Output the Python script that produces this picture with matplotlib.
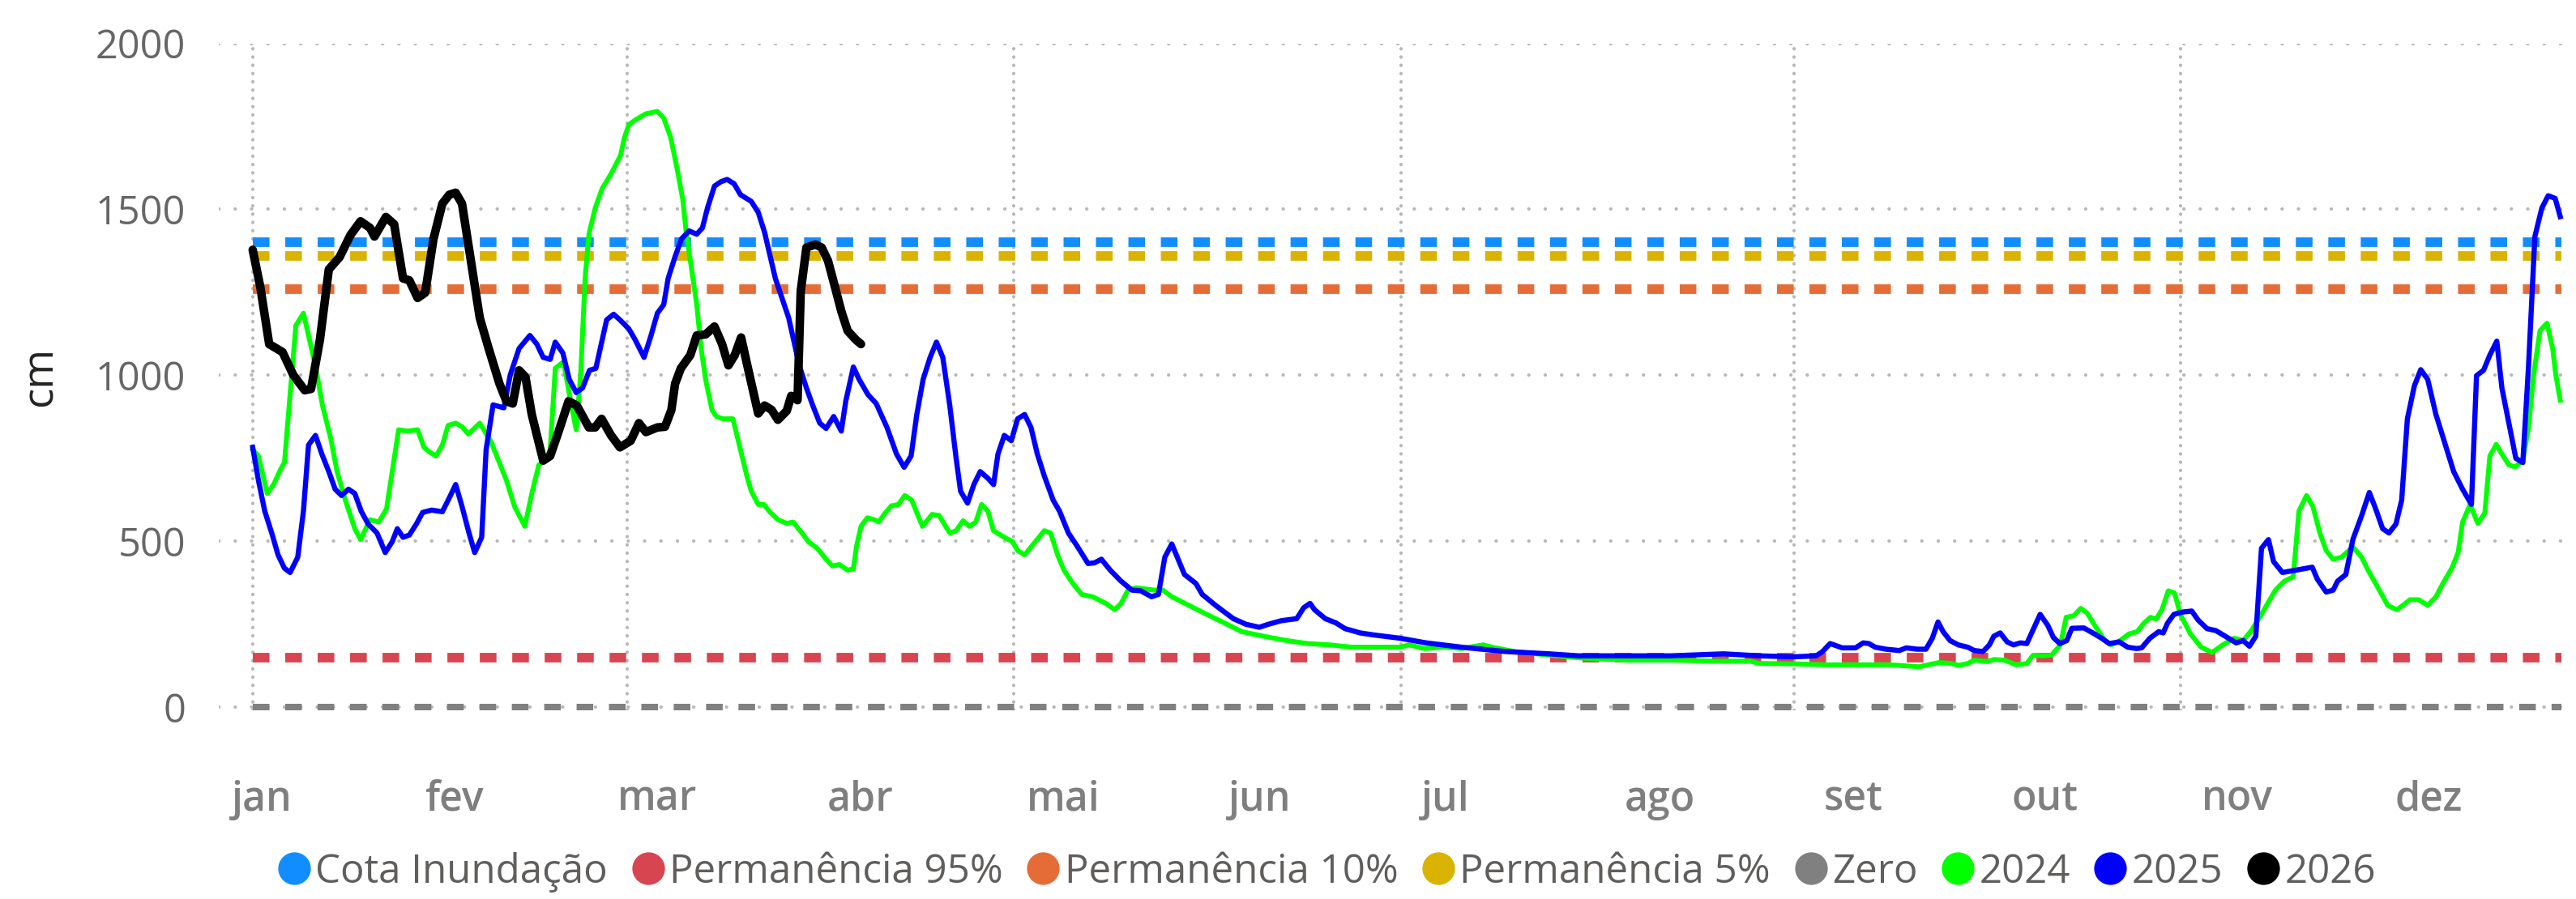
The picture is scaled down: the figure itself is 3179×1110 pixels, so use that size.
import matplotlib
matplotlib.use("Agg")
import matplotlib.pyplot as plt
from matplotlib.lines import Line2D

plt.rcParams['font.family'] = ['Open Sans', 'DejaVu Sans']

# dia do ano (0 = 1 jan) e cota em cm
dias_2024 = [0, 0.9, 2.3, 3.3, 4.4, 5, 6.8, 8, 8.8, 9.9, 11, 12.3, 13.3, 14.7, 16.1, 17, 18.5, 19.9, 21.1, 22, 23,
             24.4, 26, 27, 27.8, 28.9, 29.9, 30.8, 32, 33, 34, 35.8, 37.5, 40, 41.3, 42.9, 44, 45.1, 46.2, 46.9, 47.7,
             49, 50, 51, 51.7, 52.4, 53, 54, 55.1, 56.5, 58, 58.6, 59.3, 60.3, 62, 63.8, 64.8, 65.9, 66.9, 67.8, 68.3,
             69, 70, 70.7, 71.4, 72.4, 73.1, 74.1, 75.7, 76.9, 77.9, 78.6, 79.7, 80.6, 81.4, 82.8, 84.2, 85.2, 86.6,
             87.6, 89, 90.4, 91.4, 92.5, 93.8, 94.7, 95.2, 95.9, 96.9, 98, 98.7, 99.7, 100.7, 101.8, 102.8, 103.9,
             104.6, 105.6, 107.1, 108.2, 109.9, 110.9, 112, 113, 114, 114.9, 115.9, 116.8, 118.5, 119.8, 120.6, 121.7,
             123.4, 124.8, 125.8, 126.9, 127.9, 129.3, 130.7, 132.4, 134.5, 135.9, 136.9, 138, 139.3, 142.1, 143.5,
             144.9, 147.6, 150.4, 153.2, 155.9, 159.4, 163, 166.3, 169.8, 173.3, 176.7, 180.9, 182.3, 184.7, 187.8,
             190.6, 194, 195.4, 198.9, 204.4, 209.8, 216.7, 223.6, 230.5, 236.1, 237.5, 243, 247.8, 254.8, 258.2,
             262.7, 265.9, 267.9, 268.9, 270.4, 271.4, 273.5, 274.5, 276.2, 278, 279.7, 280.7, 282.3, 283.6, 285,
             285.9, 287.1, 288.2, 289.2, 290.6, 292, 293, 294.4, 295.8, 297.1, 298.2, 299.2, 300.1, 301, 302, 303,
             303.9, 305.5, 307.2, 308.9, 310.6, 312.4, 313.8, 315.1, 316.5, 317.9, 318.9, 320.3, 321.7, 322.6, 323.8,
             324.8, 325.9, 326.9, 328, 329.3, 331.1, 332.5, 333.5, 334.9, 336.6, 338, 339, 340.1, 341.5, 342.9, 344.2,
             345.3, 346.7, 347.7, 348.4, 349.6, 350.8, 351.9, 352.7, 353.7, 354.6, 355.7, 356.7, 357.9, 358.8, 359.6,
             360.6, 361.7, 362.6, 363.1, 363.8]
cota_2024 = [776, 757, 644, 671, 717, 737, 1150, 1187, 1120, 1028, 909, 810, 710, 618, 538, 505, 565, 558, 598, 710,
             836, 832, 836, 783, 770, 757, 790, 849, 856, 845, 823, 856, 803, 684, 604, 545, 644, 730, 743, 776, 1021,
             1041, 935, 836, 1001, 1292, 1425, 1504, 1563, 1607, 1663, 1716, 1755, 1769, 1788, 1795, 1775, 1716, 1623,
             1530, 1438, 1345, 1213, 1081, 988, 896, 876, 869, 869, 776, 697, 651, 611, 611, 591, 565, 554, 558, 525,
             499, 479, 446, 426, 430, 413, 417, 486, 545, 571, 565, 558, 585, 607, 611, 638, 624, 591, 545, 581, 578,
             525, 532, 562, 545, 558, 611, 591, 532, 512, 499, 472, 459, 499, 532, 525, 459, 413, 373, 340, 333, 313,
             294, 313, 353, 360, 353, 353, 333, 307, 280, 254, 228, 214, 201, 192, 188, 181, 181, 181, 188, 177, 181,
             177, 188, 181, 168, 157, 148, 142, 142, 139, 139, 132, 131, 128, 128, 128, 122, 135, 132, 126, 132, 142,
             138, 144, 142, 128, 132, 157, 155, 157, 188, 271, 276, 298, 284, 241, 201, 188, 201, 221, 228, 254, 271,
             266, 294, 351, 344, 280, 221, 181, 165, 188, 208, 201, 231, 274, 320, 353, 380, 393, 591, 638, 605, 525,
             472, 446, 452, 483, 452, 413, 366, 307, 294, 307, 324, 324, 307, 333, 373, 419, 466, 558, 611, 554, 585,
             757, 792, 763, 730, 724, 743, 843, 1001, 1134, 1157, 1081, 1001, 925]

dias_2025 = [0, 0.9, 1.9, 3, 4, 5, 5.9, 7.1, 8, 8.8, 9.9, 10.9, 12, 13, 14, 15.1, 16.1, 17.1, 18.2, 19.6, 20.9, 22,
             22.8, 23.7, 24.7, 25.8, 26.8, 28.2, 29.9, 31, 32, 33, 34.1, 35, 36.1, 36.8, 37.9, 39.6, 40.6, 42, 43.7,
             44.8, 45.8, 46.9, 47.7, 48.9, 49.9, 51, 52, 53.1, 54.1, 55.1, 55.8, 56.9, 57.9, 59.3, 60.3, 61.7, 62.8,
             63.8, 64.8, 65.5, 66.6, 67.6, 68.8, 70, 70.9, 71.7, 72.8, 73.8, 74.8, 75.9, 76.9, 78.6, 79.7, 80.7, 82.4,
             84.5, 86.2, 87.3, 88.3, 89.4, 90.4, 91.6, 92.8, 93.5, 94.7, 95.6, 97, 98.3, 100, 101.5, 102.7, 103.8,
             104.7, 105.7, 106.8, 107.8, 108.8, 109.9, 110.9, 111.6, 112.7, 113.7, 114.7, 115.9, 116.8, 117.5, 118.5,
             119.6, 120.6, 121.7, 122.7, 123.7, 124.8, 126.2, 127.2, 128.6, 130, 131.7, 132.7, 133.8, 135.2, 136.9,
             138.6, 140, 141.7, 142.8, 143.8, 144.9, 145.9, 146.9, 148.7, 149.7, 151.8, 154.6, 156.6, 158.7, 160.1,
             162.2, 164.6, 165.7, 166.7, 167.4, 169.1, 170.8, 172.2, 174.6, 176.7, 180.9, 185, 190.6, 197.5, 204.4,
             209, 216.7, 223.6, 231.9, 237.5, 243, 246.5, 247.5, 248.7, 250.6, 252.7, 253.9, 254.8, 255.8, 257.5,
             259.6, 260.7, 262.4, 263.8, 264.8, 265.7, 266.5, 267.6, 268.9, 270.4, 271.4, 272.8, 273.8, 274.5, 275.5,
             276.6, 277.6, 278.7, 279.7, 280.7, 281.8, 283, 283.9, 284.9, 286, 286.8, 288.7, 290.1, 291.5, 292.7,
             294.3, 295.6, 297, 297.8, 299.1, 300.5, 301.2, 301.9, 302.9, 304.3, 305.7, 306.7, 308.1, 309.5, 311,
             312.7, 313.8, 314.8, 315.8, 316.7, 317.8, 318.6, 320, 322.1, 324.7, 325.5, 326.9, 328, 328.7, 330, 331.1,
             332.5, 333.7, 334.7, 335.8, 336.8, 337.9, 338.8, 339.7, 340.8, 341.8, 342.9, 344.2, 345.6, 347, 348.4,
             349.8, 350.6, 351.7, 352.7, 353.8, 354.6, 355.7, 356.8, 357.9, 358.8, 359.8, 360.9, 361.9, 363, 363.8]
cota_2025 = [783, 684, 591, 525, 459, 419, 406, 452, 591, 790, 819, 763, 710, 657, 638, 657, 644, 591, 552, 525, 466,
             499, 538, 512, 519, 552, 587, 594, 589, 631, 671, 605, 525, 466, 512, 776, 911, 902, 1001, 1081, 1120,
             1094, 1054, 1048, 1100, 1067, 988, 948, 962, 1015, 1021, 1107, 1167, 1184, 1167, 1140, 1107, 1054, 1120,
             1187, 1213, 1292, 1358, 1411, 1435, 1425, 1444, 1504, 1570, 1583, 1590, 1577, 1544, 1524, 1491, 1431,
             1292, 1173, 1028, 962, 909, 856, 840, 876, 832, 922, 1025, 988, 942, 915, 843, 763, 723, 757, 882, 988,
             1054, 1100, 1054, 909, 750, 651, 615, 671, 710, 690, 671, 763, 819, 803, 869, 882, 843, 763, 697, 624,
             591, 525, 485, 433, 435, 446, 413, 380, 353, 351, 333, 340, 452, 492, 446, 400, 373, 340, 307, 267, 250,
             241, 250, 261, 267, 300, 313, 294, 267, 254, 237, 224, 218, 208, 194, 181, 168, 161, 155, 155, 155, 161,
             155, 152, 155, 168, 192, 179, 179, 194, 192, 181, 175, 171, 179, 175, 175, 208, 257, 228, 201, 188, 181,
             171, 168, 188, 214, 224, 197, 188, 194, 192, 234, 280, 247, 210, 192, 201, 238, 239, 224, 208, 192, 197,
             181, 177, 179, 208, 228, 224, 254, 280, 287, 290, 263, 237, 231, 214, 194, 201, 184, 214, 479, 505, 439,
             406, 413, 422, 386, 347, 353, 380, 400, 505, 578, 647, 598, 538, 525, 552, 624, 869, 968, 1017, 988, 882,
             796, 710, 657, 611, 999, 1015, 1061, 1103, 962, 856, 750, 737, 1028, 1418, 1504, 1541, 1533, 1478]

dias_2026 = [0, 1.2, 2.6, 4.7, 6.4, 8.2, 9.2, 10.6, 12, 13.7, 15.4, 17, 18.5, 19.2, 21, 22.3, 23.7, 24.7, 26, 27.2,
             28.5, 29.9, 31, 32, 33, 34.4, 35.8, 37.2, 38.9, 40, 41, 42, 43, 44, 45.8, 46.9, 48.2, 49.8, 51.1, 53, 54,
             55, 56.5, 57.9, 59.6, 60.9, 62, 63.8, 65, 66, 66.6, 67.5, 69, 70, 71.4, 72.8, 74, 75, 76, 77, 78, 79.7,
             80.7, 81.8, 82.8, 84.2, 84.9, 85.9, 86.4, 87.3, 88.7, 89.7, 90.7, 91.8, 92.8, 93.8, 95.1, 95.9]
cota_2026 = [1378, 1266, 1094, 1070, 1001, 955, 959, 1107, 1319, 1356, 1422, 1464, 1444, 1418, 1477, 1455, 1292, 1286,
             1233, 1249, 1411, 1517, 1544, 1550, 1517, 1345, 1173, 1081, 975, 922, 915, 1015, 995, 882, 743, 757, 829,
             922, 909, 843, 843, 869, 819, 783, 803, 856, 829, 843, 845, 895, 975, 1021, 1061, 1120, 1123, 1147, 1094,
             1030, 1061, 1114, 1028, 885, 909, 896, 866, 893, 938, 925, 1253, 1385, 1394, 1385, 1345, 1266, 1193, 1134,
             1107, 1094]

# cotas de referencia
referencias = ['Cota Inundação', 'Permanência 95%', 'Permanência 10%', 'Permanência 5%', 'Zero']
valores_ref = [1400, 150, 1260, 1360, 0]
cores_ref = ['#118DFF', '#D64550', '#E66C37', '#D9B300', '#808080']

anos = ['2024', '2025', '2026']
cores_anos = ['#00FF00', '#0000FF', '#000000']

meses = ['jan', 'fev', 'mar', 'abr', 'mai', 'jun', 'jul', 'ago', 'set', 'out', 'nov', 'dez']
pos_meses = [1.5, 31.7, 63.8, 95.8, 127.8, 158.8, 188, 221.8, 252.4, 282.6, 312.9, 343.1]
grade_x = [0, 59, 120, 181, 243, 304]
ticks_y = [0, 500, 1000, 1500, 2000]

fig = plt.figure(figsize=(31.79, 11.10), dpi=100)
ax = fig.add_axes([0.0848, 0.2103, 0.9145, 0.7415])

for nome, v, c in zip(referencias, valores_ref, cores_ref):
    if nome == 'Zero':
        ax.plot([0, 364], [v, v], color=c, lw=5.8, dashes=(2.55, 2.41), dash_capstyle='butt',
                zorder=3, clip_on=False)
    else:
        ax.plot([0, 364], [v, v], color=c, lw=8.5, dashes=(1.74, 1.65), dash_capstyle='butt', zorder=3)

ax.plot(dias_2024, cota_2024, color=cores_anos[0], lw=4.3, zorder=4, solid_joinstyle='round')
ax.plot(dias_2025, cota_2025, color=cores_anos[1], lw=4.6, zorder=5, solid_joinstyle='round')
ax.plot(dias_2026, cota_2026, color=cores_anos[2], lw=7.6, zorder=6, solid_joinstyle='round',
        solid_capstyle='round')

ax.set_xlim(-5.4, 366)
ax.set_ylim(-8, 2000)

ax.set_yticks(ticks_y)
ax.set_yticklabels([str(t) for t in ticks_y])
ax.set_xticks(pos_meses)
ax.set_xticklabels(meses)
ax.set_xticks(grade_x, minor=True)

# grade pontilhada
ax.grid(axis='y', which='major', color='#B8B8B8', lw=3.0, linestyle=(0, (0.05, 4.8)), dash_capstyle='round')
ax.grid(axis='x', which='minor', color='#B8B8B8', lw=3.0, linestyle=(0, (0.05, 2.4)), dash_capstyle='round')
ax.set_axisbelow(True)

ax.tick_params(axis='y', length=0, pad=29, labelsize=35, labelcolor='#666666')
ax.tick_params(axis='x', which='major', length=0, pad=62, labelsize=36, labelcolor='#7F7F7F')
ax.tick_params(axis='x', which='minor', length=0)
for t in ax.get_xticklabels():
    t.set_fontweight('semibold')

for s in ax.spines.values():
    s.set_visible(False)

ax.set_ylabel('cm', fontsize=38, color='#252423', labelpad=30)

handles = [Line2D([], [], marker='o', ls='', color=c, markersize=28) for c in cores_ref + cores_anos]
fig.legend(handles, referencias + anos, loc='center', bbox_to_anchor=(0.515, 0.03), ncol=8, frameon=False,
           fontsize=35.5, labelcolor='#605E5C', handlelength=0.83, handletextpad=0.12, columnspacing=0.59,
           borderpad=0, borderaxespad=0)

fig.savefig('out.png', dpi=100)
